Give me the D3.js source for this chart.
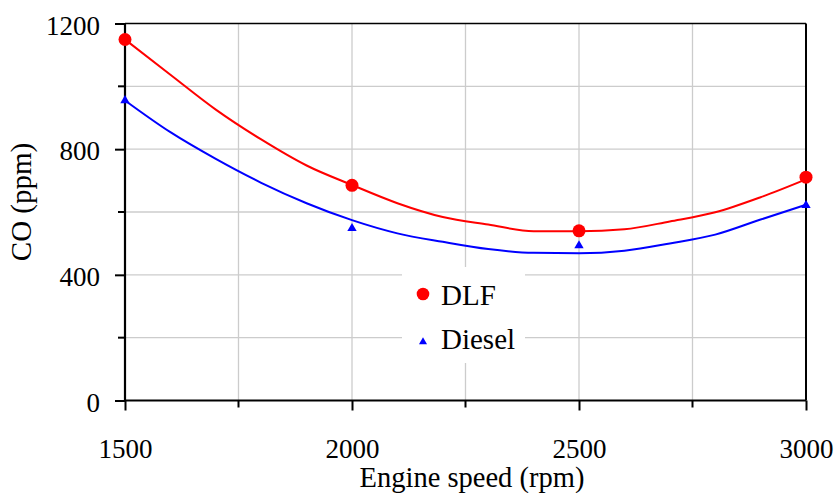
<!DOCTYPE html>
<html>
<head>
<meta charset="utf-8">
<script src="https://cdn.jsdelivr.net/npm/d3@7"></script>
<style>
  html, body { margin: 0; padding: 0; background: #fff; }
  svg { display: block; }
</style>
</head>
<body>
<svg id="chart" width="838" height="493"></svg>
<script>
// ---- Data ----
const speeds = [1500, 2000, 2500, 3000];            // measured points (rpm)
const dlfPoints = [1149, 685, 540, 711];             // DLF CO (ppm)
const dieselPoints = [955, 548, 493, 621];           // Diesel CO (ppm)

const trendSpeeds = [1500, 1600, 1700, 1800, 1900, 2000, 2100, 2200, 2300, 2400, 2500, 2600, 2700, 2800, 2900, 3000];
const dlfTrend =    [1149, 1037, 926, 831, 748, 686, 628, 584, 560, 539, 539, 545, 570, 599, 647, 704];
const dieselTrend = [955, 854, 769, 693, 628, 574, 532, 505, 482, 470, 469, 477, 500, 528, 576, 623];

const xTickLabels = [1500, 2000, 2500, 3000];
const xMinorTicks = [1750, 2250, 2750];
const yTickLabels = [0, 400, 800, 1200];
const yMinorTicks = [200, 600, 1000];
const xGrid = [1750, 2000, 2250, 2500, 2750];
const yGrid = [200, 400, 600, 800, 1000];

const seriesNames = ["DLF", "Diesel"];
const xTitle = "Engine speed (rpm)";
const yTitle = "CO (ppm)";

const FONT = "'Liberation Serif', 'Times New Roman', serif";

// ---- Layout ----
const W = 838, H = 493;
const m = { left: 125, right: 32, top: 23.5, bottom: 92.5 };
const iw = W - m.left - m.right, ih = H - m.top - m.bottom;

const svg = d3.select("#chart");
const g = svg.append("g").attr("transform", `translate(${m.left},${m.top})`);

const x = d3.scaleLinear().domain([1500, 3000]).range([0, iw]);
const y = d3.scaleLinear().domain([0, 1200]).range([ih, 0]);

// gridlines
g.append("g").selectAll("line").data(xGrid).join("line")
  .attr("x1", d => x(d)).attr("x2", d => x(d)).attr("y1", 0).attr("y2", ih)
  .attr("stroke", "#cccccc").attr("stroke-width", 1.3);
g.append("g").selectAll("line").data(yGrid).join("line")
  .attr("x1", 0).attr("x2", iw).attr("y1", d => y(d)).attr("y2", d => y(d))
  .attr("stroke", "#cccccc").attr("stroke-width", 1.3);

// legend box (white, covers gridlines)
const legend = svg.append("g");
legend.append("rect").attr("x", 402).attr("y", 267).attr("width", 123).attr("height", 96).attr("fill", "#fff");

// border top & right
g.append("line").attr("x1", 0).attr("x2", iw).attr("y1", 0).attr("y2", 0).attr("stroke", "#000").attr("stroke-width", 1.6);
g.append("line").attr("x1", iw).attr("x2", iw).attr("y1", 0).attr("y2", ih).attr("stroke", "#000").attr("stroke-width", 2);

// axes
const xAxis = d3.axisBottom(x).tickValues(xTickLabels).tickSize(10).tickPadding(28.8).tickFormat(d3.format("d"));
const gx = g.append("g").attr("transform", `translate(0,${ih})`).call(xAxis);
const yAxis = d3.axisLeft(y).tickValues(yTickLabels).tickSize(10).tickPadding(15).tickFormat(d3.format("d"));
const gy = g.append("g").call(yAxis);
[gx, gy].forEach(a => {
  a.attr("font-family", null).attr("font-size", null);
  a.select(".domain").attr("stroke", "#000").attr("stroke-width", 2.2);
  a.selectAll(".tick line").attr("stroke", "#000").attr("stroke-width", 2);
  a.selectAll(".tick text").style("font-family", FONT).style("font-size", "27px").attr("fill", "#000");
});
gy.selectAll(".tick text").attr("dy", "0.4em");
gx.select(".domain").attr("d", `M0,0H${iw}`);
gy.select(".domain").attr("d", `M0,${ih}V0`);

// minor ticks
g.append("g").selectAll("line").data(xMinorTicks).join("line")
  .attr("x1", d => x(d)).attr("x2", d => x(d)).attr("y1", ih).attr("y2", ih + 7)
  .attr("stroke", "#000").attr("stroke-width", 2);
g.append("g").selectAll("line").data(yMinorTicks).join("line")
  .attr("x1", -7).attr("x2", 0).attr("y1", d => y(d)).attr("y2", d => y(d))
  .attr("stroke", "#000").attr("stroke-width", 2);

// trend lines
const line = d3.line().x(d => x(d[0])).y(d => y(d[1])).curve(d3.curveMonotoneX);
g.append("path").datum(d3.zip(trendSpeeds, dlfTrend)).attr("d", line)
  .attr("fill", "none").attr("stroke", "#ff0000").attr("stroke-width", 2);
g.append("path").datum(d3.zip(trendSpeeds, dieselTrend)).attr("d", line)
  .attr("fill", "none").attr("stroke", "#0000ff").attr("stroke-width", 2);

// markers
g.append("g").selectAll("circle").data(d3.zip(speeds, dlfPoints)).join("circle")
  .attr("cx", d => x(d[0])).attr("cy", d => y(d[1])).attr("r", 6.5).attr("fill", "#ff0000");
const tri = d3.symbol().type(d3.symbolTriangle).size(38);
g.append("g").selectAll("path").data(d3.zip(speeds, dieselPoints)).join("path")
  .attr("transform", d => `translate(${x(d[0])},${y(d[1])})`).attr("d", tri).attr("fill", "#0000ff");

// legend entries
legend.append("circle").attr("cx", 423).attr("cy", 294).attr("r", 6.3).attr("fill", "#ff0000");
legend.append("text").attr("x", 441).attr("y", 305).style("font-family", FONT).style("font-size", "29px").text(seriesNames[0]);
legend.append("path").attr("transform", "translate(423,342)").attr("d", d3.symbol().type(d3.symbolTriangle).size(28)).attr("fill", "#0000ff");
legend.append("text").attr("x", 441).attr("y", 349).style("font-family", FONT).style("font-size", "29px").text(seriesNames[1]);

// axis titles
svg.append("text").attr("x", 472).attr("y", 487).attr("text-anchor", "middle").style("font-family", FONT).style("font-size", "28.5px").text(xTitle);
svg.append("text").attr("transform", "translate(31,202) rotate(-90)").attr("text-anchor", "middle").style("font-family", FONT).style("font-size", "29px").text(yTitle);
</script>
</body>
</html>
